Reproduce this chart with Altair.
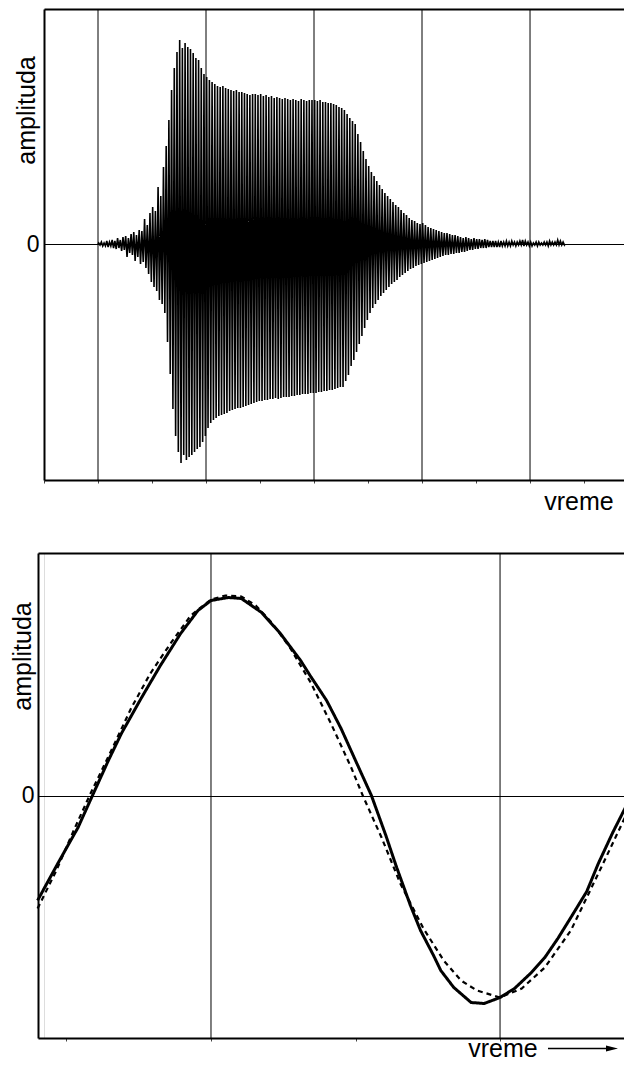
import altair as alt
import pandas as pd

FONT = "Liberation Sans"

# ---------------- top panel: recorded waveform ----------------
# peak (upper) and trough (lower, magnitude) of every cycle, read off the picture
WAVE_START = 1.0      # first cycle starts on the first grid line
WAVE_PERIOD = 0.05    # length of one cycle in grid units
WAVE_UPPER = [
    1, 2, 1, 3, 2, 4, 3, 6, 4, 7,
    8, 6, 10, 12, 9, 14, 13, 25, 19, 31,
    37, 33, 57, 48, 77, 98, 124, 154, 176, 192,
    204, 196, 201, 197, 195, 191, 186, 184, 176, 170,
    167, 164, 162, 160, 158, 157, 158, 156, 155, 154,
    153, 154, 152, 152, 151, 150, 149, 150, 150, 149,
    150, 148, 149, 147, 148, 146, 147, 146, 145, 146,
    145, 144, 145, 144, 143, 145, 144, 143, 144, 144,
    144, 143, 144, 142, 142, 141, 141, 140, 139, 137,
    136, 134, 130, 126, 123, 120, 110, 102, 93, 85,
    78, 72, 68, 63, 59, 55, 51, 48, 45, 42,
    39, 37, 34, 31, 29, 26, 24, 23, 21, 20,
    21, 19, 17, 16, 15, 14, 13, 12, 11, 11,
    10, 9, 9, 8, 7, 6, 7, 6, 5, 6,
    5, 5, 4, 5, 4, 3, 3, 3, 2, 3,
    2, 3, 2, 3, 2, 2, 3, 4, 3, 2,
    2, 1, 2, 2, 1, 2, 2, 3, 2, 2,
    4, 3, 2,
]
WAVE_LOWER = [
    1, 2, 2, 3, 2, 4, 5, 4, 7, 6,
    13, 9, 11, 17, 13, 20, 18, 24, 30, 38,
    43, 47, 56, 60, 69, 98, 130, 165, 192, 208,
    219, 211, 216, 213, 211, 208, 205, 203, 198, 192,
    184, 179, 176, 174, 172, 171, 170, 169, 167, 166,
    165, 164, 164, 163, 162, 161, 160, 159, 158, 157,
    157, 156, 156, 155, 155, 154, 155, 154, 153, 153,
    153, 152, 152, 151, 151, 150, 150, 150, 149, 149,
    149, 148, 148, 147, 147, 146, 146, 145, 144, 143,
    143, 137, 131, 122, 116, 108, 100, 92, 84, 76,
    69, 64, 60, 56, 52, 49, 46, 43, 40, 38,
    36, 33, 31, 29, 27, 25, 24, 22, 21, 20,
    19, 18, 17, 16, 15, 14, 13, 12, 11, 11,
    10, 10, 9, 9, 8, 8, 7, 6, 6, 5,
    5, 4, 4, 4, 3, 3, 3, 3, 3, 2,
    2, 2, 2, 1, 2, 1, 1, 2, 1, 2,
    2, 1, 2, 1, 1, 1, 2, 1, 1, 1,
    1, 1, 1,
]
TOP_X_DOMAIN = [0, 10.907]
TOP_Y_DOMAIN = [-236, 235]
TOP_GRID = [1, 3, 5, 7, 9]
TOP_TICKS = [0, 1, 2, 3, 4, 5, 6, 7, 8, 9, 10]

# ---------------- bottom panel: one period, two curves ----------------
SOLID_T = [-0.20, -0.06, 0.08, 0.18, 0.29, 0.38, 0.52, 0.65, 0.79, 0.91,
           1.00, 1.12, 1.21, 1.35, 1.48, 1.62, 1.69, 1.80, 1.90, 2.00,
           2.11, 2.21, 2.28, 2.38, 2.45, 2.54, 2.59, 2.68, 2.80, 2.89,
           3.00, 3.10, 3.21, 3.31, 3.40, 3.49, 3.60, 3.68, 3.78, 3.92]
SOLID_A = [-105, -68, -32, 0, 35, 62, 98, 130, 162, 185,
           195, 198, 197, 183, 162, 135, 119, 95, 67, 35,
           0, -40, -70, -110, -135, -160, -175, -192, -207, -208,
           -202, -193, -178, -162, -143, -122, -96, -68, -37, 3]
DASH_T = [-0.20, -0.07, 0.05, 0.16, 0.31, 0.45, 0.58, 0.72, 0.86, 1.00,
          1.10, 1.21, 1.31, 1.42, 1.55, 1.69, 1.83, 1.97, 2.05, 2.18,
          2.31, 2.47, 2.61, 2.73, 2.84, 3.00, 3.15, 3.31, 3.49, 3.70, 3.92]
DASH_A = [-113, -75, -35, 0, 45, 88, 122, 152, 180, 196,
          200, 199, 190, 173, 147, 113, 72, 28, 0, -42,
          -88, -133, -165, -185, -195, -202, -193, -172, -135, -72, -5]
BOT_X_DOMAIN = [-0.197, 3.920]
BOT_Y_DOMAIN = [-242.5, 242.5]
BOT_GRID = [1, 3]
BOT_TICKS = [0, 1, 2, 3]
SERIES = ["solid", "dashed"]

# ---------------- tables ----------------
wave_rows = [{"t": WAVE_START, "a": 0}]
for i, (up, lo) in enumerate(zip(WAVE_UPPER, WAVE_LOWER)):
    t0 = WAVE_START + i * WAVE_PERIOD
    wave_rows.append({"t": t0 + WAVE_PERIOD * 0.25, "a": up})
    wave_rows.append({"t": t0 + WAVE_PERIOD * 0.75, "a": -lo})
wave_rows.append({"t": WAVE_START + len(WAVE_UPPER) * WAVE_PERIOD, "a": 0})
wave_df = pd.DataFrame(wave_rows)

curve_df = pd.concat([
    pd.DataFrame({"t": SOLID_T, "a": SOLID_A, "s": SERIES[0]}),
    pd.DataFrame({"t": DASH_T, "a": DASH_A, "s": SERIES[1]}),
], ignore_index=True)

LABEL_SIZE = 23
TITLE_SIZE = 25
PLOT_W = 589


def frame_top_axis():
    return alt.Axis(orient="top", labels=False, ticks=False, grid=False,
                    domain=True, domainColor="black", domainWidth=2, title=None)


def bottom_axis(values, title_x, title_y):
    return alt.Axis(orient="bottom", values=values, labels=False, ticks=True,
                    tickSize=3, tickColor="#444444", tickWidth=1, grid=False,
                    domain=True, domainColor="black", domainWidth=2,
                    title="vreme", titleFont=FONT, titleFontSize=TITLE_SIZE,
                    titleFontWeight="normal", titleColor="black",
                    titleX=title_x, titleY=title_y, titleAlign="center",
                    titleBaseline="alphabetic")


def left_axis(label_pad, title_x, title_y, offset):
    return alt.Axis(orient="left", values=[0], grid=True, gridColor="black",
                    gridWidth=1, gridOpacity=1, domain=True, domainColor="black",
                    domainWidth=2, ticks=False, labelFont=FONT,
                    labelFontSize=LABEL_SIZE, labelColor="black",
                    labelPadding=label_pad, offset=offset, title="amplituda",
                    titleFont=FONT, titleFontSize=TITLE_SIZE,
                    titleFontWeight="normal", titleColor="black", titleAngle=270,
                    titleX=title_x, titleY=title_y, titleAlign="center",
                    titleBaseline="middle")


def spacer(px):
    return alt.Chart(alt.Data(values=[{"k": 0}])).mark_rule(opacity=0).encode(
        x=alt.value(px), y=alt.value(0), y2=alt.value(10))


# ---------------- top chart ----------------
top_x = alt.Scale(domain=TOP_X_DOMAIN, nice=False, zero=False)
top_y = alt.Scale(domain=TOP_Y_DOMAIN, nice=False, zero=False)

top_grid = alt.Chart(pd.DataFrame({"g": TOP_GRID})).mark_rule(
    color="black", strokeWidth=1).encode(
    x=alt.X("g:Q", scale=top_x, axis=frame_top_axis()))

top_wave = alt.Chart(wave_df).mark_line(color="black", strokeWidth=1.6).encode(
    x=alt.X("t:Q", scale=top_x, axis=bottom_axis(TOP_TICKS, 534.5, 29)),
    y=alt.Y("a:Q", scale=top_y, axis=left_axis(5, -17.5, 101, 0)),
)

top = alt.layer(top_grid, top_wave, spacer(-38)).resolve_axis(
    x="independent").properties(width=PLOT_W, height=471)

# ---------------- bottom chart ----------------
# the bottom frame starts 6 px further left than the top one
bot_x = alt.Scale(domain=BOT_X_DOMAIN, range=[-6, PLOT_W], nice=False, zero=False)
bot_y = alt.Scale(domain=BOT_Y_DOMAIN, nice=False, zero=False)

bot_grid = alt.Chart(pd.DataFrame({"g": BOT_GRID})).mark_rule(
    color="black", strokeWidth=1).encode(
    x=alt.X("g:Q", scale=bot_x, axis=frame_top_axis()))

bot_curves = alt.Chart(curve_df).mark_line(color="black").encode(
    x=alt.X("t:Q", scale=bot_x, axis=bottom_axis(BOT_TICKS, 458.5, 18.5)),
    y=alt.Y("a:Q", scale=bot_y, axis=left_axis(4, -16, 103, 6)),
    strokeDash=alt.StrokeDash("s:N", scale=alt.Scale(domain=SERIES, range=[[1, 0], [5, 4]]), legend=None),
    strokeWidth=alt.StrokeWidth("s:N", scale=alt.Scale(domain=SERIES, range=[3, 2.2]), legend=None),
)

arrow_shaft = alt.Chart(alt.Data(values=[{"k": 0}])).mark_rule(
    color="black", strokeWidth=1.3).encode(
    x=alt.value(504), x2=alt.value(564), y=alt.value(495.5))
arrow_head = alt.Chart(alt.Data(values=[{"k": 0}])).mark_point(
    shape="M-1,-0.5L1,0L-1,0.5Z", filled=True, color="black", opacity=1,
    size=144, strokeWidth=0).encode(x=alt.value(568), y=alt.value(495.5))

bottom = alt.layer(bot_grid, bot_curves, arrow_shaft, arrow_head, spacer(-38)).resolve_axis(
    x="independent").properties(width=PLOT_W, height=485)

# the frames run off the right edge of the page, as in the original figure
chart = alt.vconcat(top, bottom, spacing=37).properties(
    padding={"left": -3, "top": 0, "right": -16, "bottom": 0},
    background="white").configure_view(
    stroke="transparent", strokeWidth=0, strokeOpacity=0).configure(font=FONT)

chart.save("out.html", embed_options={"renderer": "svg", "actions": False})
